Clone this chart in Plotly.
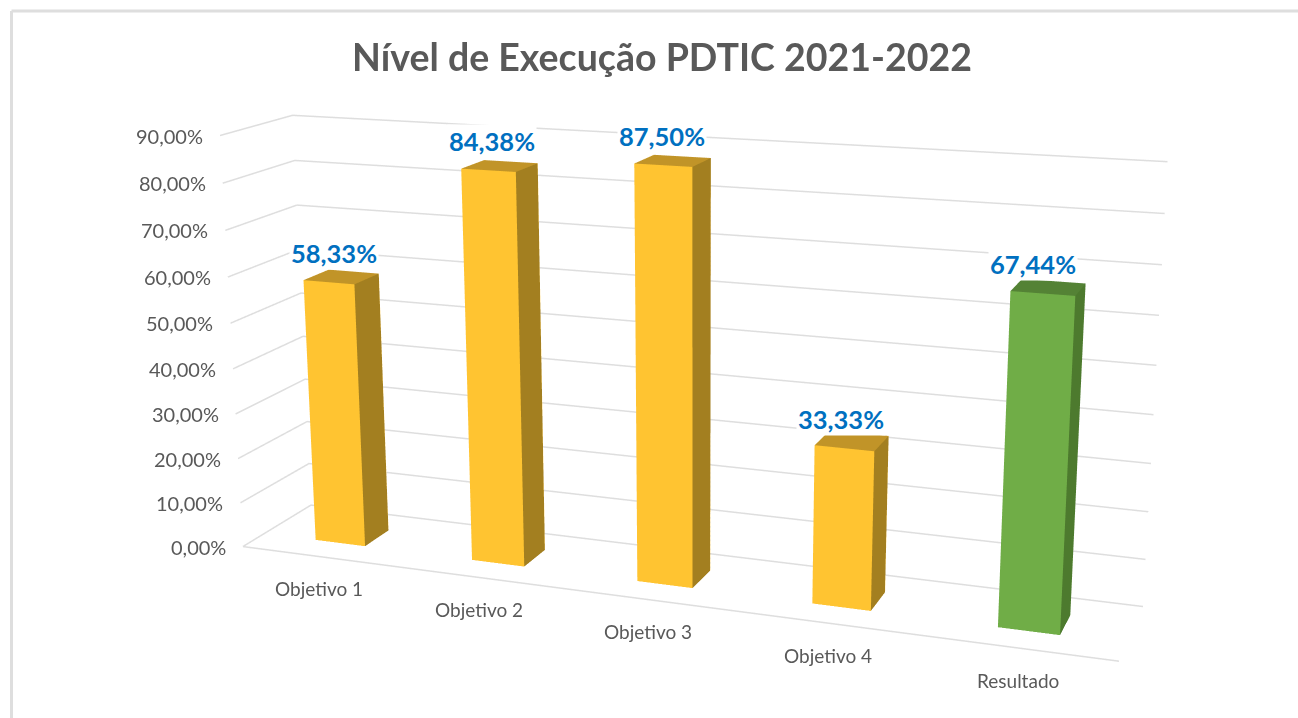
import numpy as np
import plotly.graph_objects as go

categories = ["Objetivo 1", "Objetivo 2", "Objetivo 3", "Objetivo 4", "Resultado"]
values = [58.33, 84.38, 87.50, 33.33, 67.44]
value_labels = ["58,33%", "84,38%", "87,50%", "33,33%", "67,44%"]
z_ticks = [0, 10, 20, 30, 40, 50, 60, 70, 80, 90]
z_labels = ["0,00%", "10,00%", "20,00%", "30,00%", "40,00%", "50,00%", "60,00%", "70,00%", "80,00%", "90,00%"]

W, H = 1298, 718

# camera and box proportions of the 3D view
EYE = (1.5698, -4.2913, 1.2198)
CEN = (-0.0614, 0.0105, 0.0102)
UP = (-0.0564, 0.1652, 1.0)
ASPECT = (2.0, 0.3183, 0.9533)
FOCAL = 2192.4147
FOVY = 2 * np.arctan(H / 2 / FOCAL)

# bar footprint, in category and depth units
BW, D0, D1 = 0.3219, 0.3058, 0.6735
LABEL_XSHIFT = [5, 4, -1, -3, -10]

YELLOW = ("#FFC431", "#A37F20", "#C19428")
GREEN = ("#70AD47", "#4D7A2E", "#548235")
GRID = "#DEDEDE"
TEXT = "#595959"

fig = go.Figure()
for v in z_ticks:
    fig.add_trace(go.Scatter3d(x=[0, 0, 5], y=[0, 1, 1], z=[v, v, v], mode="lines",
                               line=dict(color=GRID, width=3), hoverinfo="skip"))
fig.add_trace(go.Scatter3d(x=[0, 5], y=[0, 0], z=[0, 0], mode="lines",
                           line=dict(color=GRID, width=3), hoverinfo="skip"))
for i, (cat, v) in enumerate(zip(categories, values)):
    fc, sc, tc = GREEN if cat == "Resultado" else YELLOW
    x0, x1 = i + .5 - BW / 2, i + .5 + BW / 2
    xs = [x0, x1, x1, x0, x0, x1, x1, x0]
    ys = [D0, D0, D1, D1, D0, D0, D1, D1]
    zs = [0, 0, 0, 0, v, v, v, v]
    I = [0, 0, 1, 1, 4, 4, 3, 3, 0, 0, 2, 2]
    J = [1, 5, 2, 6, 5, 6, 2, 6, 3, 7, 3, 7]
    K = [5, 4, 6, 5, 6, 7, 6, 7, 7, 4, 7, 6]
    cols = [fc, fc, sc, sc, tc, tc, tc, tc, fc, fc, fc, fc]
    fig.add_trace(go.Mesh3d(x=xs, y=ys, z=zs, i=I, j=J, k=K, facecolor=cols, flatshading=True,
                            lighting=dict(ambient=1, diffuse=0, specular=0, fresnel=0),
                            hoverinfo="skip", name=cat))

ann = []
for v, t in zip(z_ticks, z_labels):
    ann.append(dict(x=0, y=0, z=v, text=t, showarrow=False, xanchor="right", xshift=-15, yshift=0,
                    font=dict(family="Lato", size=20, color=TEXT)))
for i, c in enumerate(categories):
    ann.append(dict(x=i + .5, y=0, z=0, text=c, showarrow=False, xshift=-1, yshift=-32,
                    font=dict(family="Lato", size=19, color=TEXT)))
for i, (t, v) in enumerate(zip(value_labels, values)):
    ann.append(dict(x=i + .5, y=D0, z=v, text=t, showarrow=False, xshift=LABEL_XSHIFT[i], yshift=29, bgcolor="white",
                    font=dict(family="Lato", size=25.5, color="#0070C0", weight=700)))

ax_off = dict(showbackground=False, showticklabels=False, title="", showspikes=False, zeroline=False, ticks="",
              showgrid=False, showline=False)
fig.update_layout(
    width=W, height=H, margin=dict(l=0, r=0, t=0, b=0), paper_bgcolor="white", showlegend=False,
    title=dict(text="<b>Nível de Execução PDTIC 2021-2022</b>", x=662 / W, xanchor="center", y=1 - 57.5 / H, yanchor="middle",
               font=dict(family="Lato", size=37.5, color=TEXT)),
    scene=dict(
        domain=dict(x=[0, 1], y=[0, 1]),
        xaxis=dict(range=[0, 5], **ax_off),
        yaxis=dict(range=[0, 1], **ax_off),
        zaxis=dict(range=[0, 90], **ax_off),
        aspectmode="manual", aspectratio=dict(x=ASPECT[0], y=ASPECT[1], z=ASPECT[2]),
        camera=dict(eye=dict(x=EYE[0], y=EYE[1], z=EYE[2]), center=dict(x=CEN[0], y=CEN[1], z=CEN[2]),
                    up=dict(x=UP[0], y=UP[1], z=UP[2]), projection=dict(type="perspective")),
        annotations=ann,
    ),
    shapes=[dict(type="line", xref="paper", yref="paper", x0=11.5 / W, x1=1, y0=1 - 11 / H, y1=1 - 11 / H, line=dict(color=GRID, width=3)),
            dict(type="line", xref="paper", yref="paper", x0=11.5 / W, x1=11.5 / W, y0=1 - 11 / H, y1=0, line=dict(color=GRID, width=3))],
)
post = """
document.body.style.margin='0';
(function(){
  var gd=document.querySelector('.js-plotly-plot');
  var n=0;
  function go(){
    var s=gd&&gd._fullLayout&&gd._fullLayout.scene&&gd._fullLayout.scene._scene;
    if(s&&s.glplot){ s.glplot.fovy=%f; s.glplot.redraw(); }
    if(++n<30) setTimeout(go,50);
  }
  go();
})();
""" % FOVY
fig.write_html("out.html", config={"displayModeBar": False}, post_script=post)
